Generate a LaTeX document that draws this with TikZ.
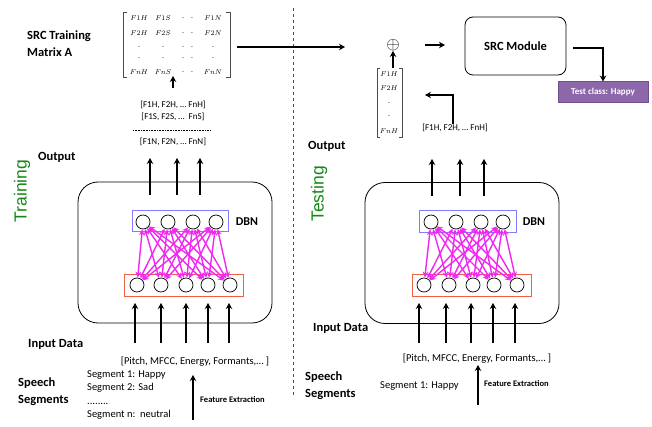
\documentclass[tikz,border=0pt]{standalone}
\usepackage{fontspec}
\setmainfont{Carlito}
\newfontfamily\arialf{Liberation Sans}
\usetikzlibrary{arrows.meta}
\definecolor{tgreen}{RGB}{20,135,20}
\definecolor{layblue}{RGB}{130,125,255}
\definecolor{layred}{RGB}{240,95,65}
\definecolor{linkmag}{RGB}{240,40,240}
\definecolor{pfill}{RGB}{140,104,170}
\definecolor{pdraw}{RGB}{110,80,140}
\tikzset{
  lbl/.style={font=\fontsize{12.5}{17}\selectfont\bfseries, align=left, inner sep=0pt, anchor=west},
  txt/.style={font=\fontsize{9}{12}\selectfont, inner sep=0pt},
  fex/.style={font=\fontsize{8.5}{9}\selectfont\bfseries, inner sep=0pt, anchor=west},
  ent/.style={font=\fontsize{7.5}{8}\selectfont, inner sep=0pt},
  side/.style={font=\arialf\fontsize{17.5}{18}\selectfont, text=tgreen, rotate=90, inner sep=0pt},
  arr/.style={-{Stealth[length=6pt,width=6.5pt]}, line width=1.5pt},
  unit/.style={circle, draw, minimum size=14pt, inner sep=0pt, line width=0.7pt},
  link/.style={{Stealth[length=6pt,width=5.5pt]}-{Stealth[length=6pt,width=5.5pt]}, draw=linkmag, line width=1.4pt},
  dbnbox/.style={draw, rounded corners=20pt, minimum width=194pt, minimum height=141pt, line width=0.8pt},
  brk/.style={line width=0.5pt, draw=black!70}
}
\begin{document}
\begin{tikzpicture}[x=1pt,y=-1pt]
\useasboundingbox (0,0) rectangle (652,427);

% ---------------- top left: matrix A ----------------
\node[lbl] (srcA) at (27,43.5) {SRC Training\\Matrix A};
\draw[brk] (127,12) -- (123,12) -- (123,77) -- (127,77);
\draw[brk] (226,12) -- (230,12) -- (230,77) -- (226,77);
\foreach \r/\y/\a/\b/\c in {1/18/F1H/F1S/F1N, 2/33/F2H/F2S/F2N, 5/72/FnH/FnS/FnN}{
  \node[ent] (m\r a) at (139,\y) {$\a$};
  \node[ent] (m\r b) at (163,\y) {$\b$};
  \node[ent] (m\r c) at (183,\y) {.};
  \node[ent] (m\r d) at (192,\y) {.};
  \node[ent] (m\r e) at (213,\y) {$\c$};
}
\foreach \r/\y in {3/47, 4/58}{
  \foreach \k/\x in {a/139, b/163, c/183, d/192, e/213}{
    \node[ent] (m\r\k) at (\x,\y) {.};
  }
}
\coordinate (matR) at (237,47);
\coordinate (matB) at (173,76);

\node[txt] (vh) at (173,105) {[F1H, F2H, \dots\ FnH]};
\node[txt] (vs) at (173,117) {[F1S, F2S, \dots\ \ FnS]};
\draw[densely dotted, line width=0.6pt] (133,130) -- (211,130);
\node[txt] (vn) at (173,142) {[F1N, F2N, \dots\ FnN]};
\draw[arr] (vh.north |- 0,88) -- (matB);

% separator
\draw[dashed, line width=0.5pt, draw=black!70] (293,8) -- (293,397);

% ---------------- top right ----------------
\node[inner sep=0pt, font=\fontsize{17}{17}\selectfont] (plus) at (393,45) {$\oplus$};
\draw[arr] (matR) -- (345,47);
\node[draw, rounded corners=8pt, minimum width=101pt, minimum height=58pt, line width=0.8pt,
      font=\fontsize{12.5}{13}\selectfont\bfseries] (src) at (515.5,46) {SRC Module};
\draw[arr] (425,45) -- (445,45);
\node[fill=pfill, draw=pdraw, line width=1pt, minimum width=90pt, minimum height=21pt, inner sep=0pt,
      text=white, font=\fontsize{9}{10}\selectfont\bfseries] (test) at (603,92.5) {Test class: Happy};
\draw[arr] (573,48) -| (test.north);

\draw[brk] (380,68) -- (377,68) -- (377,137) -- (380,137);
\draw[brk] (399,68) -- (402,68) -- (402,137) -- (399,137);
\node[ent] (t1) at (389,74) {$F1H$};
\node[ent] (t2) at (389,88) {$F2H$};
\node[ent] (t3) at (389,103) {.};
\node[ent] (t4) at (389,116) {.};
\node[ent] (t5) at (389,131) {$FnH$};
\draw[arr] (393,68) -- (plus.south);

\node[txt] (vt) at (455,128) {[F1H, F2H, \dots\ FnH]};
\coordinate (vtEnd) at (425,95);
\draw[arr] (vt.north -| 453,0) |- (vtEnd);

% ---------------- side labels ----------------
\node[side] (train) at (22,191) {Training};
\node[side] (testg) at (319,194) {Testing};
\node[lbl] (outL) at (38,157) {Output};
\node[lbl] (outR) at (308,146) {Output};
\node[lbl] (inL) at (28,344) {Input Data};
\node[lbl] (inR) at (313,328) {Input Data};
\node[lbl] (spL) at (18,391.5) {Speech\\Segments};
\node[lbl] (spR) at (305,386) {Speech\\Segments};

% ---------------- DBN left ----------------
\node[dbnbox] (boxL) at (175,252.5) {};
\node[draw=layblue, line width=1pt, minimum width=96pt, minimum height=21pt] (blueL) at (180,221.5) {};
\node[draw=layred, line width=1pt, minimum width=119pt, minimum height=22pt] (redL) at (183.5,285) {};
\foreach \i/\x in {1/143, 2/168, 3/193, 4/216} \node[unit] (Lt\i) at (\x,222) {};
\foreach \i/\x in {1/137, 2/161, 3/186, 4/208, 5/230} \node[unit] (Lb\i) at (\x,285) {};
\foreach \i in {1,...,4}{\foreach \j in {1,...,5}{\draw[link] (Lt\i) -- (Lb\j);}}
\node[font=\fontsize{12}{13}\selectfont\bfseries, inner sep=0pt] (dbnL) at (247,222) {DBN};
\foreach \x in {150,177,200} \draw[arr] (\x,195) -- (\x,158);
\foreach \x in {135,161,186,208,229} \draw[arr] (\x,343) -- (\x,303);

% ---------------- DBN right ----------------
\node[dbnbox] (boxR) at (462,253) {};
\node[draw=layblue, line width=1pt, minimum width=97pt, minimum height=22pt] (blueR) at (467.5,222) {};
\node[draw=layred, line width=1pt, minimum width=119pt, minimum height=22pt] (redR) at (471.5,285) {};
\foreach \i/\x in {1/431, 2/456, 3/481, 4/503} \node[unit] (Rt\i) at (\x,222) {};
\foreach \i/\x in {1/424, 2/449, 3/473, 4/494, 5/517} \node[unit] (Rb\i) at (\x,285) {};
\foreach \i in {1,...,4}{\foreach \j in {1,...,5}{\draw[link] (Rt\i) -- (Rb\j);}}
\node[font=\fontsize{12}{13}\selectfont\bfseries, inner sep=0pt] (dbnR) at (534,222) {DBN};
\foreach \x in {432,460,484} \draw[arr] (\x,196) -- (\x,159);
\foreach \x in {419,446,471,493,515} \draw[arr] (\x,343) -- (\x,303);

% ---------------- bottom ----------------
\node[txt, font=\fontsize{10.5}{12}\selectfont] (pitchL) at (195,362) {[Pitch, MFCC, Energy, Formants,\dots\ ]};
\node[txt, align=left, anchor=west, font=\fontsize{10.5}{13.3}\selectfont] (segL) at (87,395)
  {Segment 1: Happy\\Segment 2: Sad\\........\\Segment n:\ \ neutral};
\coordinate (feL) at (193,420);
\draw[arr] (feL) -- (193,375);
\node[fex] (fexL) at (200,400) {Feature Extraction};

\node[txt, font=\fontsize{10.5}{12}\selectfont] (pitchR) at (477,359) {[Pitch, MFCC, Energy, Formants,\dots\ ]};
\node[txt, anchor=west, font=\fontsize{10.5}{12}\selectfont] (segR) at (380,386) {Segment 1: Happy};
\coordinate (feR) at (478,405);
\draw[arr] (feR) -- (478,365);
\node[fex] (fexR) at (484,384) {Feature Extraction};
\end{tikzpicture}
\end{document}
